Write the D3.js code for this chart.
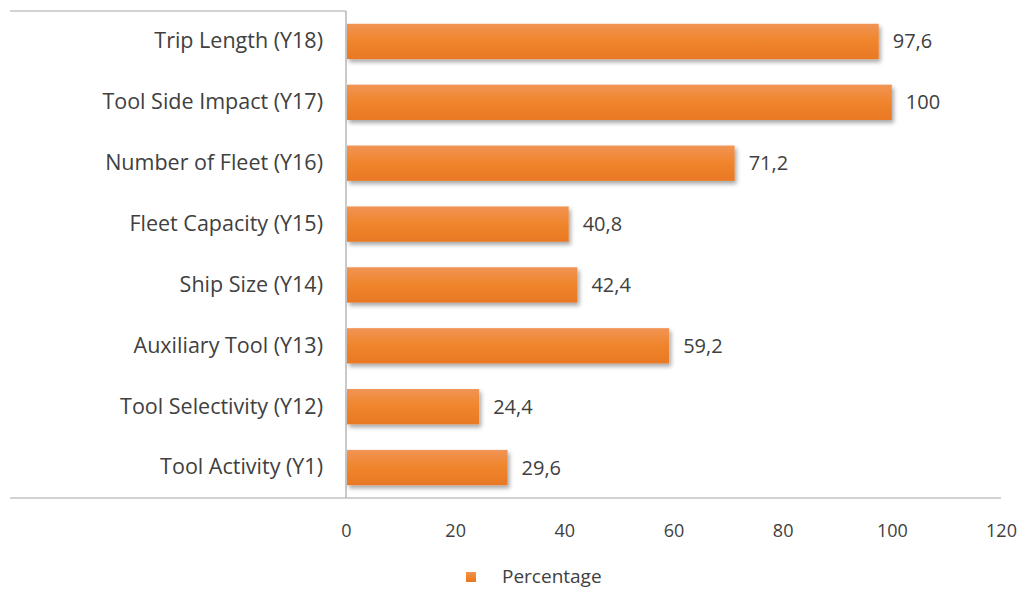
<!DOCTYPE html>
<html>
<head>
<meta charset="utf-8">
<script src="https://cdn.jsdelivr.net/npm/d3@7"></script>
<style>
  html, body { margin: 0; padding: 0; background: #fff; }
  svg { display: block; font-family: "Open Sans", "Noto Sans", sans-serif; }
</style>
</head>
<body>
<svg id="chart" width="1023" height="589"></svg>
<script>
// Indicator scores, listed top to bottom
const categories = [
  "Trip Length (Y18)",
  "Tool Side Impact (Y17)",
  "Number of Fleet (Y16)",
  "Fleet Capacity (Y15)",
  "Ship Size (Y14)",
  "Auxiliary Tool (Y13)",
  "Tool Selectivity (Y12)",
  "Tool Activity (Y1)"
];
const percentage = [97.6, 100, 71.2, 40.8, 42.4, 59.2, 24.4, 29.6];
const xTicks = [0, 20, 40, 60, 80, 100, 120];
const seriesName = "Percentage";

const svg = d3.select("#chart");
const plotLeft = 346, plotRight = 1001, plotTop = 11, plotBottom = 498;
const textColor = "#404040";

const x = d3.scaleLinear().domain([0, 120]).range([plotLeft, plotRight]);
const y = d3.scaleBand().domain(categories).range([plotTop, plotBottom]).paddingInner(0.42).paddingOuter(0.21);

const commaLocale = d3.formatLocale({ decimal: ",", thousands: ".", grouping: [3], currency: ["", ""] });
const fmt = v => Number.isInteger(v) ? String(v) : commaLocale.format(".1f")(v);

// Bar fill: light-to-dark vertical gradient plus soft drop shadow
const defs = svg.append("defs");
const grad = defs.append("linearGradient").attr("id", "barGrad").attr("x1", 0).attr("y1", 0).attr("x2", 0).attr("y2", 1);
grad.append("stop").attr("offset", "0%").attr("stop-color", "#F19455");
grad.append("stop").attr("offset", "45%").attr("stop-color", "#F0862E");
grad.append("stop").attr("offset", "100%").attr("stop-color", "#E97824");
const shadow = defs.append("filter").attr("id", "barShadow").attr("x", "-10%").attr("y", "-30%").attr("width", "130%").attr("height", "180%");
shadow.append("feDropShadow").attr("dx", 2).attr("dy", 3).attr("stdDeviation", 2).attr("flood-color", "#000").attr("flood-opacity", 0.35);

// Frame lines
const lineColor = "#a6a6a6";
svg.append("line").attr("x1", 10).attr("x2", plotLeft).attr("y1", plotTop).attr("y2", plotTop).attr("stroke", lineColor).attr("stroke-width", 1.2);
svg.append("line").attr("x1", plotLeft).attr("x2", plotLeft).attr("y1", plotTop).attr("y2", plotBottom).attr("stroke", lineColor).attr("stroke-width", 1.2);
svg.append("line").attr("x1", 10).attr("x2", plotRight).attr("y1", plotBottom).attr("y2", plotBottom).attr("stroke", lineColor).attr("stroke-width", 1.2);

// X axis tick labels
const xAxis = d3.axisBottom(x).tickValues(xTicks).tickSize(0).tickPadding(0).tickFormat(d3.format("d"));
const gx = svg.append("g").attr("transform", `translate(0,${plotBottom + 26})`).call(xAxis);
gx.select(".domain").remove();
gx.selectAll("text").attr("font-size", 18).attr("fill", textColor).attr("font-family", "Open Sans, sans-serif");

// Category labels
const yAxis = d3.axisLeft(y).tickSize(0).tickPadding(23);
const gy = svg.append("g").attr("transform", `translate(${plotLeft},0)`).call(yAxis);
gy.select(".domain").remove();
gy.selectAll("text").attr("font-size", 21.5).attr("fill", textColor).attr("font-family", "Open Sans, sans-serif");

// Bars
svg.append("g").selectAll("rect").data(categories).join("rect")
  .attr("x", x(0) + 1)
  .attr("y", d => y(d))
  .attr("width", (d, i) => x(percentage[i]) - x(0) - 1)
  .attr("height", y.bandwidth())
  .attr("fill", "url(#barGrad)")
  .attr("filter", "url(#barShadow)");

// Value labels
svg.append("g").selectAll("text").data(categories).join("text")
  .attr("x", (d, i) => x(percentage[i]) + 14)
  .attr("y", d => y(d) + y.bandwidth() / 2)
  .attr("dy", "0.35em")
  .attr("font-size", 20)
  .attr("fill", textColor)
  .text((d, i) => fmt(percentage[i]));

// Legend
const lg = svg.append("g").attr("transform", "translate(466,572)");
lg.append("rect").attr("width", 10).attr("height", 10).attr("fill", "url(#barGrad)");
lg.append("text").attr("x", 36).attr("y", 5).attr("dy", "0.33em").attr("font-size", 19).attr("fill", textColor).text(seriesName);
</script>
</body>
</html>
